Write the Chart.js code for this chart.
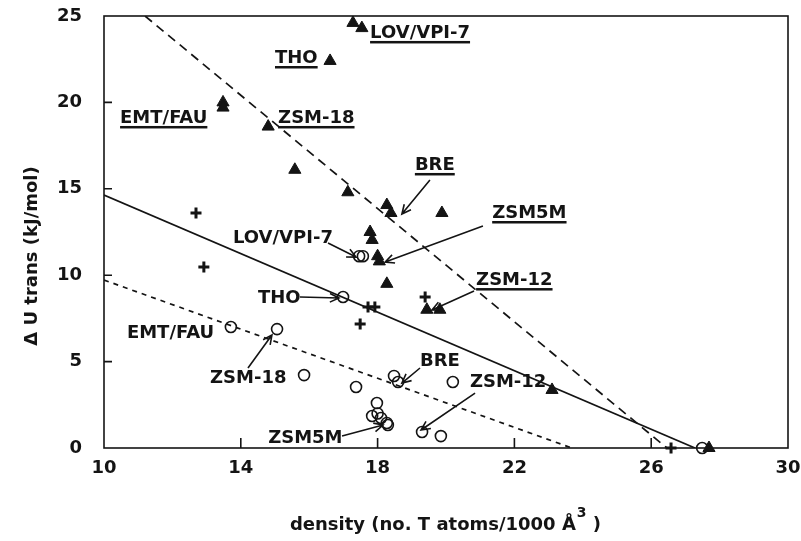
<!DOCTYPE html>
<html>
<head>
<meta charset="utf-8">
<script src="https://cdn.jsdelivr.net/npm/chart.js@4.4.0/dist/chart.umd.min.js"></script>
<style>
  html, body { margin: 0; padding: 0; background: #fff; }
</style>
</head>
<body>
<canvas id="grafico" width="801" height="541"></canvas>
<script>
// eixos
let xTicks = [10, 14, 18, 22, 26, 30];
let yTicks = [0, 5, 10, 15, 20, 25];

// triangulos cheios
let triX = [17.28, 17.54, 16.61, 13.48, 13.48, 14.80, 15.58, 17.13, 18.27, 18.39, 19.88, 17.78, 17.84, 18.00, 18.05, 18.27, 19.44, 19.82, 23.10, 27.69];
let triY = [24.6, 24.3, 22.4, 20.0, 19.7, 18.6, 16.1, 14.8, 14.06, 13.6, 13.6, 12.5, 12.04, 11.1, 10.8, 9.5, 8.0, 8.0, 3.36, 0];

// circulos abertos
let circX = [17.46, 17.57, 16.99, 13.71, 15.06, 15.85, 17.37, 18.48, 18.60, 20.20, 17.98, 17.84, 18.00, 18.10, 18.27, 18.30, 19.30, 19.85, 27.49];
let circY = [11.1, 11.1, 8.74, 7.0, 6.88, 4.22, 3.53, 4.17, 3.82, 3.82, 2.6, 1.85, 2.0, 1.74, 1.45, 1.33, 0.93, 0.69, 0];

// cruzes
let cruzX = [12.69, 12.92, 17.72, 17.92, 17.49, 19.39, 26.58];
let cruzY = [13.6, 10.47, 8.16, 8.16, 7.18, 8.74, 0];

// retas de ajuste
let retaTriX = [11.2, 26.46];
let retaTriY = [25, 0];
let retaCruzX = [10, 27.28];
let retaCruzY = [14.64, 0];
let retaCircX = [10, 23.68];
let retaCircY = [9.72, 0];

function pontos(xs, ys) {
    return xs.map((x, i) => ({ x: x, y: ys[i] }));
}

// nomes das estruturas: texto, posicao (x, y da linha de base), sublinhado, seta
let rotulos = [
    { t: "LOV/VPI-7", x: 17.78, y: 23.73, sub: true },
    { t: "THO", x: 15.0, y: 22.28, sub: true },
    { t: "EMT/FAU", x: 10.47, y: 18.81, sub: true },
    { t: "ZSM-18", x: 15.09, y: 18.81, sub: true },
    { t: "BRE", x: 19.09, y: 16.09, sub: true, seta: [19.53, 15.51, 18.71, 13.54] },
    { t: "ZSM5M", x: 21.35, y: 13.31, sub: true, seta: [21.08, 12.85, 18.22, 10.76] },
    { t: "ZSM-12", x: 20.88, y: 9.43, sub: true, seta: [20.82, 9.09, 19.59, 7.99] },
    { t: "LOV/VPI-7", x: 13.77, y: 11.86, seta: [16.55, 11.86, 17.37, 11.05] },
    { t: "THO", x: 14.5, y: 8.39, seta: [15.73, 8.74, 16.87, 8.68] },
    { t: "EMT/FAU", x: 10.67, y: 6.37 },
    { t: "ZSM-18", x: 13.1, y: 3.76, seta: [14.21, 4.63, 14.91, 6.54] },
    { t: "BRE", x: 19.24, y: 4.75, seta: [19.24, 4.63, 18.71, 3.76] },
    { t: "ZSM-12", x: 20.7, y: 3.53, seta: [20.85, 3.18, 19.27, 1.04] },
    { t: "ZSM5M", x: 14.8, y: 0.29, seta: [16.96, 0.69, 18.16, 1.33] }
];

const fonte = "'DejaVu Sans', Verdana, sans-serif";
const tinta = "#141414";

// moldura e tracinhos para dentro
const moldura = {
    id: 'moldura',
    beforeDatasetsDraw(chart) {
        const c = chart.ctx, a = chart.chartArea;
        const sx = chart.scales.x, sy = chart.scales.y;
        c.save();
        c.strokeStyle = tinta;
        c.lineWidth = 1.6;
        c.strokeRect(a.left, a.top, a.right - a.left, a.bottom - a.top);
        c.beginPath();
        yTicks.slice(1, -1).forEach(v => {
            const p = sy.getPixelForValue(v);
            c.moveTo(a.left, p); c.lineTo(a.left + 8, p);
        });
        xTicks.slice(1, -1).forEach(v => {
            const p = sx.getPixelForValue(v);
            c.moveTo(p, a.bottom); c.lineTo(p, a.bottom - 10);
        });
        c.stroke();
        c.restore();
    }
};

function seta(c, x1, y1, x2, y2) {
    const ang = Math.atan2(y2 - y1, x2 - x1);
    const L = 10, abre = 0.45;
    c.beginPath();
    c.moveTo(x1, y1); c.lineTo(x2, y2);
    c.moveTo(x2 - L * Math.cos(ang - abre), y2 - L * Math.sin(ang - abre));
    c.lineTo(x2, y2);
    c.lineTo(x2 - L * Math.cos(ang + abre), y2 - L * Math.sin(ang + abre));
    c.stroke();
}

const textos = {
    id: 'textos',
    afterDraw(chart) {
        const c = chart.ctx;
        const sx = chart.scales.x, sy = chart.scales.y;
        c.save();
        c.fillStyle = tinta;
        c.strokeStyle = tinta;
        c.lineWidth = 1.6;
        c.font = "bold 18px " + fonte;
        c.textBaseline = 'alphabetic';
        c.textAlign = 'left';
        rotulos.forEach(r => {
            const px = sx.getPixelForValue(r.x), py = sy.getPixelForValue(r.y);
            c.fillText(r.t, px, py);
            if (r.sub) {
                const w = c.measureText(r.t).width;
                c.fillRect(px, py + 3, w, 2.5);
            }
            if (r.seta) {
                seta(c, sx.getPixelForValue(r.seta[0]), sy.getPixelForValue(r.seta[1]),
                        sx.getPixelForValue(r.seta[2]), sy.getPixelForValue(r.seta[3]));
            }
        });

        // titulo do eixo y
        c.save();
        c.translate(37, 256);
        c.rotate(-Math.PI / 2);
        c.textAlign = 'center';
        c.font = "bold 18px " + fonte;
        c.fillText("\u0394 U trans (kJ/mol)", 0, 0);
        c.restore();

        // titulo do eixo x com expoente
        const p1 = "density (no. T atoms/1000 \u00C5", p2 = "3", p3 = " )";
        c.font = "bold 18px " + fonte;
        const w1 = c.measureText(p1).width, w3 = c.measureText(p3).width;
        c.font = "bold 14px " + fonte;
        const w2 = c.measureText(p2).width;
        let x0 = 445 - (w1 + w2 + w3) / 2;
        c.font = "bold 18px " + fonte;
        c.fillText(p1, x0, 530);
        c.font = "bold 14px " + fonte;
        c.fillText(p2, x0 + w1 + 1, 517);
        c.font = "bold 18px " + fonte;
        c.fillText(p3, x0 + w1 + w2 + 1, 530);
        c.restore();
    }
};

const fonteTicks = { family: fonte, size: 18, weight: 'bold' };

const grafico = new Chart(document.getElementById('grafico').getContext('2d'), {
    type: 'scatter',
    data: {
        datasets: [
            {
                data: pontos(triX, triY), pointStyle: 'triangle', pointRadius: 7,
                backgroundColor: tinta, borderColor: tinta, borderWidth: 1, clip: false, order: 0
            },
            {
                data: pontos(circX, circY), pointStyle: 'circle', pointRadius: 5.5,
                backgroundColor: 'rgba(0,0,0,0)', borderColor: tinta, borderWidth: 1.6, clip: false, order: 0
            },
            {
                data: pontos(cruzX, cruzY), pointStyle: 'cross', pointRadius: 5.5,
                borderColor: tinta, borderWidth: 3, clip: false, order: 0
            },
            {
                data: pontos(retaTriX, retaTriY), showLine: true, pointRadius: 0,
                borderColor: tinta, borderWidth: 1.7, borderDash: [9, 6], order: 1
            },
            {
                data: pontos(retaCruzX, retaCruzY), showLine: true, pointRadius: 0,
                borderColor: tinta, borderWidth: 1.7, order: 1
            },
            {
                data: pontos(retaCircX, retaCircY), showLine: true, pointRadius: 0,
                borderColor: tinta, borderWidth: 1.7, borderDash: [5, 5], order: 1
            }
        ]
    },
    options: {
        responsive: false,
        animation: false,
        devicePixelRatio: 1,
        layout: { padding: { top: 16, right: 13, left: 0, bottom: 0 } },
        plugins: { legend: { display: false }, tooltip: { enabled: false } },
        scales: {
            x: {
                type: 'linear', min: 10, max: 30,
                afterBuildTicks: s => { s.ticks = xTicks.map(v => ({ value: v })); },
                afterFit: s => { s.height = 93; s.paddingLeft = 0; s.paddingRight = 0; },
                grid: { display: false, drawTicks: false },
                border: { display: false },
                ticks: { color: tinta, font: fonteTicks, padding: 10, maxRotation: 0, autoSkip: false }
            },
            y: {
                type: 'linear', min: 0, max: 25,
                afterBuildTicks: s => { s.ticks = yTicks.map(v => ({ value: v })); },
                afterFit: s => { s.width = 104; s.paddingTop = 0; s.paddingBottom = 0; },
                grid: { display: false, drawTicks: false },
                border: { display: false },
                ticks: { color: tinta, font: fonteTicks, padding: 22, autoSkip: false }
            }
        }
    },
    plugins: [moldura, textos]
});
</script>
</body>
</html>
